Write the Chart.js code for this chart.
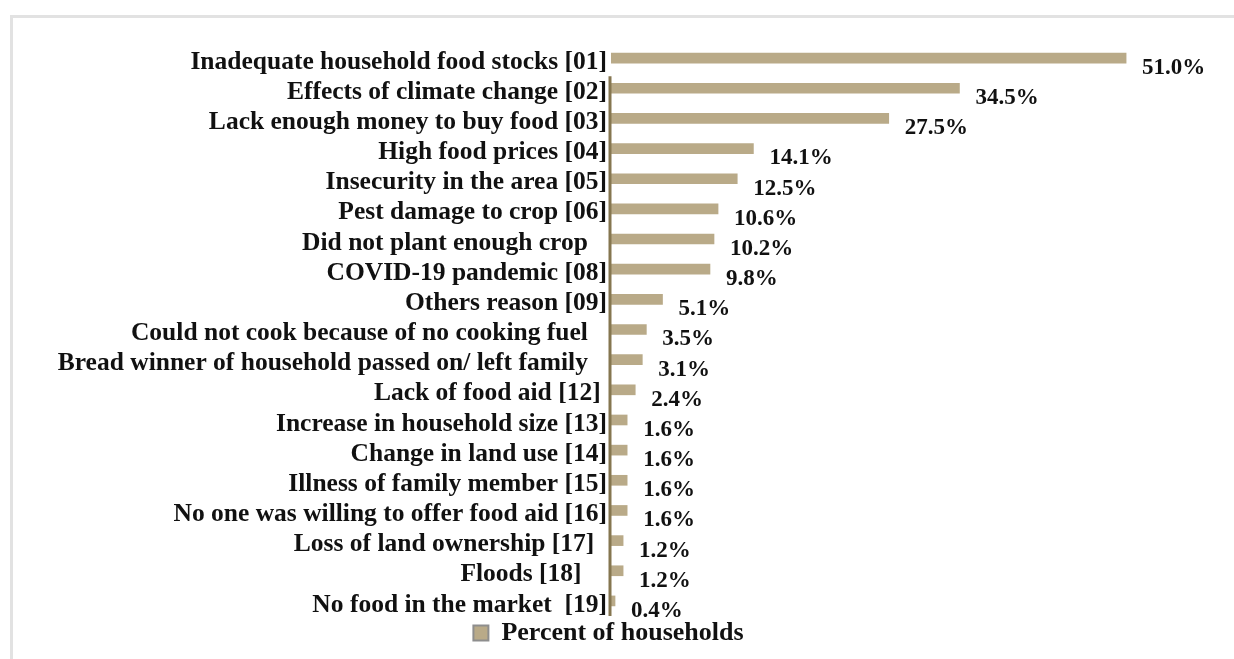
<!DOCTYPE html>
<html>
<head>
<meta charset="utf-8">
<script src="https://cdn.jsdelivr.net/npm/chart.js@4/dist/chart.umd.min.js"></script>
<style>
    html, body { margin:0; padding:0; background:#fff; }
    #wrap { position:relative; width:1234px; height:659px; overflow:hidden; }
    #frame { position:absolute; left:10px; top:15px; width:1240px; height:660px;
             border-top:3px solid #e2e2e2; border-left:3px solid #e2e2e2; }
    #chart { position:absolute; left:0; top:0; }
</style>
</head>
<body>
<div id="wrap">
    <div id="frame"></div>
    <canvas id="chart" width="1234" height="659"></canvas>
</div>
<script>

// 类别（原图中部分标签被截断，保留原样；尾部空格用于复现右侧留白）
const reasons = [
    "Inadequate household food stocks [01]",
    "Effects of climate change [02]",
    "Lack enough money to buy food [03]",
    "High food prices [04]",
    "Insecurity in the area [05]",
    "Pest damage to crop [06]",
    "Did not plant enough crop   ",
    "COVID-19 pandemic [08]",
    "Others reason [09]",
    "Could not cook because of no cooking fuel   ",
    "Bread winner of household passed on/ left family   ",
    "Lack of food aid [12] ",
    "Increase in household size [13]",
    "Change in land use [14]",
    "Illness of family member [15]",
    "No one was willing to offer food aid [16]",
    "Loss of land ownership [17]  ",
    "Floods [18]    ",
    "No food in the market  [19]"
];

// 住户百分比
const percents = [51.0, 34.5, 27.5, 14.1, 12.5, 10.6, 10.2, 9.8, 5.1, 3.5, 3.1, 2.4, 1.6, 1.6, 1.6, 1.6, 1.2, 1.2, 0.4];

const seriesName = "Percent of households";

const FONT = "'Liberation Serif', 'Times New Roman', serif";

const BAR_COLOR = "#b9aa88";
const AXIS_COLOR = "#857650";

// 在每根柱子右下方写出百分比
const valueLabels = {
    id:"valueLabels",
    afterDatasetsDraw(chart){
        const ctx = chart.ctx;
        const meta = chart.getDatasetMeta(0);
        ctx.save();
        ctx.font = "bold 23px " + FONT;
        ctx.fillStyle = "#111";
        ctx.textAlign = "left";
        ctx.textBaseline = "middle";
        meta.data.forEach((bar, i) => {
            ctx.fillText(percents[i].toFixed(1) + "%", bar.x + 16, bar.y + 10);
        });
        ctx.restore();
    }
};

// 纵轴线：从第一、二类之间开始画到底部
const axisLine = {
    id:"axisLine",
    afterDatasetsDraw(chart){
        const ctx = chart.ctx;
        const y = chart.scales.y;
        const x0 = chart.chartArea.left;
        ctx.save();
        ctx.strokeStyle = AXIS_COLOR;
        ctx.lineWidth = 3;
        ctx.beginPath();
        ctx.moveTo(x0 - 1, y.getPixelForValue(0.6));
        ctx.lineTo(x0 - 1, chart.chartArea.bottom);
        ctx.stroke();
        ctx.restore();
    }
};

new Chart(document.getElementById("chart"), {

    type:"bar",

    data:{
        labels:reasons,
        datasets:[
            {
                label:seriesName,
                data:percents,
                backgroundColor:BAR_COLOR,
                borderWidth:0,
                barThickness:10
            }
        ]
    },

    options:{
        indexAxis:"y",
        responsive:false,
        animation:false,

        layout:{
            padding:{ top:43, right:17, bottom:3, left:0 }
        },

        plugins:{
            legend:{
                position:"bottom",
                labels:{
                    color:"#111",
                    boxWidth:15,
                    boxHeight:15,
                    padding:4,
                    font:{ family:FONT, size:26, weight:"bold" },
                    generateLabels(){
                        return [{
                            text:seriesName,
                            fillStyle:BAR_COLOR,
                            strokeStyle:"#8e8e8e",
                            lineWidth:2,
                            fontColor:"#111"
                        }];
                    }
                }
            },
            tooltip:{ enabled:false }
        },

        scales:{
            x:{
                min:0,
                max:60,
                display:false
            },
            y:{
                afterFit(axis){
                    axis.width = 611;
                },
                grid:{ display:false, drawTicks:false },
                border:{ display:false },
                ticks:{
                    color:"#111",
                    padding:4,
                    labelOffset:4,
                    autoSkip:false,
                    font:{ family:FONT, size:25.5, weight:"bold" }
                }
            }
        }
    },

    plugins:[valueLabels, axisLine]

});

</script>
</body>
</html>
